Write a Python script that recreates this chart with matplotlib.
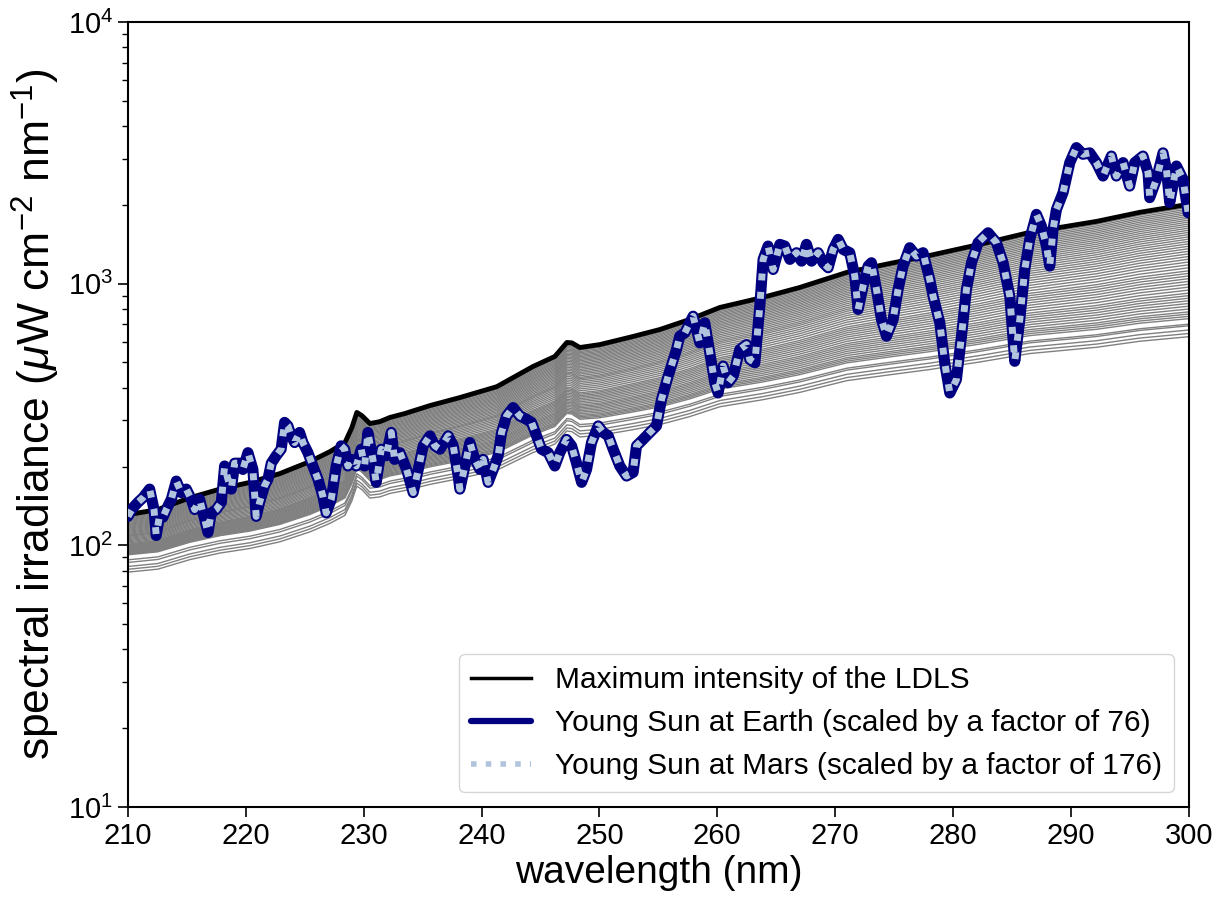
import numpy as np
import matplotlib
matplotlib.use("Agg")
import matplotlib.pyplot as plt

plt.rcParams["font.family"] = ["Liberation Sans", "DejaVu Sans"]
plt.rcParams["mathtext.fontset"] = "custom"
plt.rcParams["mathtext.rm"] = "Liberation Sans"
plt.rcParams["mathtext.it"] = "Liberation Sans:italic"
plt.rcParams["mathtext.bf"] = "Liberation Sans:bold"

# maximum intensity of the LDLS (black curve)
ldls_wl = [210.0, 212.54, 215.26, 217.80, 220.35, 222.89, 225.44, 227.13, 228.41,
           229.0, 229.42, 229.85, 230.53, 231.38, 232.22, 233.50, 235.62, 238.16,
           241.30, 244.35, 246.22, 247.24, 247.66, 248.34, 250.04, 252.84, 255.13,
           257.67, 260.22, 263.86, 267.0, 270.99, 274.64, 278.03, 282.27, 286.51,
           292.20, 295.84, 300.0]
ldls_max = [131, 137, 152, 164, 174, 188, 209, 228, 247,
            282, 322, 313, 292, 297, 308, 319, 342, 367,
            404, 482, 527, 596, 594, 570, 585, 628, 668,
            730, 811, 886, 967, 1104, 1194, 1282, 1413, 1570,
            1730, 1873, 2010]

# other LDLS settings (grey curves): level at 210 nm and at 300 nm
gray_at_210 = [129, 128, 127, 126, 125, 124, 123, 122, 121, 120, 119, 118, 117, 116,
               115, 114, 113, 112, 111, 110, 109, 108.5, 108, 107, 106, 105, 104, 103,
               102, 101, 100.5, 100, 99.5, 99, 98.5, 98, 97.5, 97, 96.5, 96, 95.5, 95,
               94.5, 94, 93.5, 93, 92.5, 92, 88, 86, 83, 81, 79]
gray_at_300 = [1990, 1960, 1930, 1900, 1870, 1840, 1810, 1780, 1750, 1720, 1690, 1660,
               1630, 1600, 1570, 1540, 1510, 1480, 1450, 1420, 1390, 1360, 1330, 1300,
               1270, 1240, 1210, 1180, 1150, 1120, 1095, 1070, 1045, 1020, 995, 970, 945,
               920, 900, 880, 860, 840, 820, 800, 780, 765, 750, 735, 700, 690, 665, 645,
               627]

# young Sun spectrum, scaled (Earth x76 and Mars x176 give the same curve)
sun_wl = [210.00, 210.42, 210.85, 211.27, 211.84, 212.21, 212.40, 212.69, 212.97, 213.25,
          213.68, 214.10, 214.52, 214.95, 215.37, 215.66, 216.08, 216.50, 216.79, 217.07,
          217.49, 217.92, 218.20, 218.48, 218.77, 219.05, 219.47, 219.75, 220.18, 220.60,
          220.88, 221.17, 221.59, 221.88, 222.16, 222.58, 223.00, 223.29, 223.57, 223.85,
          224.14, 224.56, 224.84, 225.27, 225.69, 226.12, 226.54, 226.82, 227.25, 227.67,
          228.09, 228.38, 228.66, 228.94, 229.37, 229.79, 230.08, 230.36, 230.78, 231.06,
          231.49, 231.91, 232.34, 232.62,
          233.07, 233.64, 234.20, 234.63, 235.05, 235.62, 236.04, 236.47, 237.17, 237.60,
          238.02, 238.16, 238.59, 239.01, 239.43, 239.86, 240.14, 240.56, 240.99, 241.41,
          241.70, 242.12, 242.68, 243.25, 243.82, 244.24, 244.67, 245.09, 245.66, 246.22,
          246.64, 247.21, 247.64, 248.06, 248.49, 248.91, 249.33, 249.90, 250.32, 250.75,
          251.17, 251.73, 252.30, 252.86, 253.15, 253.71, 254.28, 254.84, 255.27, 255.83,
          256.54,
          256.82, 257.25, 257.95, 258.52, 258.94, 259.37, 259.79, 260.07, 260.50, 260.92,
          261.35, 261.91, 262.48, 262.76, 263.19, 263.61, 263.89, 264.31, 264.74, 265.31,
          265.73, 266.16, 266.72, 267.15, 267.57, 268.00, 268.56, 268.98, 269.41, 269.83,
          270.26, 270.68, 271.24, 271.67, 271.95, 272.37, 272.80, 273.08, 273.51, 273.93,
          274.36, 274.92, 275.34, 275.76, 276.33, 276.90, 277.46, 277.89,
          278.03, 278.31, 278.88, 279.30, 279.73, 280.29, 280.72, 281.14, 281.57, 282.13,
          282.98, 283.69, 284.25, 284.82, 285.24, 285.67, 286.09, 286.51, 287.08, 287.50,
          287.93, 288.21, 288.49, 288.78, 289.34, 289.91, 290.47, 291.03, 291.60, 292.17,
          292.73, 293.44, 293.86, 294.43, 294.99, 295.42, 296.12, 296.55, 296.69, 297.26,
          297.82, 298.11, 298.39, 298.96, 299.52, 299.95]
sun_flux = [129, 139, 146, 152, 164, 137, 109, 131, 128, 137,
            150, 176, 159, 164, 150, 137, 150, 126, 112, 133,
            137, 146, 201, 179, 164, 206, 206, 195, 226, 195,
            129, 146, 169, 179, 206, 220, 233, 295, 286, 262,
            247, 270, 247, 226, 201, 179, 154, 133, 150, 201,
            240, 233, 201, 213, 201, 233, 201, 270, 213, 174,
            233, 220, 270, 213,
            226, 195, 159, 195, 240, 262, 240, 233, 262, 240,
            184, 164, 201, 247, 213, 195, 213, 174, 195, 220,
            270, 312, 336, 312, 303, 295, 262, 233, 226, 201,
            226, 254, 240, 206, 174, 195, 247, 286, 270, 262,
            233, 201, 184, 190, 240, 254, 270, 286, 361, 443,
            560,
            630, 649, 751, 594, 709, 544, 418, 382, 484, 418,
            443, 560, 585, 513, 498, 820, 1238, 1392, 1133, 1413,
            1392, 1238, 1313, 1219, 1413, 1219, 1313, 1202, 1150, 1352,
            1476, 1352, 1313, 1068, 797, 978, 1167, 1202, 950, 730,
            630, 730, 950, 1167, 1372, 1274, 1313, 1101,
            1038, 896, 709, 498, 382, 430, 630, 950, 1202, 1434,
            1565, 1434, 1202, 896, 505, 730, 1133, 1476, 1840, 1660,
            1392, 1167, 1612, 1923, 2228, 2901, 3311, 3121, 3162, 2901,
            2578, 3074, 2578, 2901, 2360, 2901, 3074, 2656, 2131, 2504,
            3162, 2735, 2040, 2816, 2504, 1867]

wl = np.array(ldls_wl)
top = np.array(ldls_max, dtype=float)
frac = (wl - 210.0) / 90.0

fig, ax = plt.subplots(figsize=(12.28, 9.05), dpi=100)
fig.subplots_adjust(left=0.1042, right=0.968, bottom=0.1083, top=0.9757)

for v210, v300 in zip(gray_at_210, gray_at_300):
    a210 = np.log10(v210 / ldls_max[0])
    a300 = np.log10(v300 / ldls_max[-1])
    ax.plot(wl, top * 10 ** (a210 + (a300 - a210) * frac), color="grey", lw=1.0, zorder=1)

ax.plot(wl, top, color="black", lw=3.5, zorder=2, label="Maximum intensity of the LDLS")
ax.plot(sun_wl, sun_flux, color="navy", lw=8, zorder=3,
        solid_capstyle="round", solid_joinstyle="round",
        label="Young Sun at Earth (scaled by a factor of 76)")
ax.plot(sun_wl, sun_flux, color="lightsteelblue", lw=5, ls=":", zorder=4,
        label="Young Sun at Mars (scaled by a factor of 176)")

ax.set_yscale("log")
ax.set_xlim(210, 300)
ax.set_ylim(10, 1e4)
ax.set_xticks(np.arange(210, 301, 10))
ax.tick_params(axis="both", which="major", labelsize=21, length=7, width=1.2)
ax.tick_params(axis="both", which="minor", length=4, width=1)
for s in ax.spines.values():
    s.set_linewidth(1.5)

ax.set_xlabel("wavelength (nm)", fontsize=28)
ax.set_ylabel(r"spectral irradiance ($\mu$W cm$^{-2}$ nm$^{-1}$)", fontsize=32)

leg = ax.legend(loc="lower right", fontsize=21.5)
lines = leg.get_lines()
lines[0].set_linewidth(2.5)
lines[1].set_linewidth(4.5)
lines[2].set_linewidth(4)

fig.savefig("out.png", dpi=100)
